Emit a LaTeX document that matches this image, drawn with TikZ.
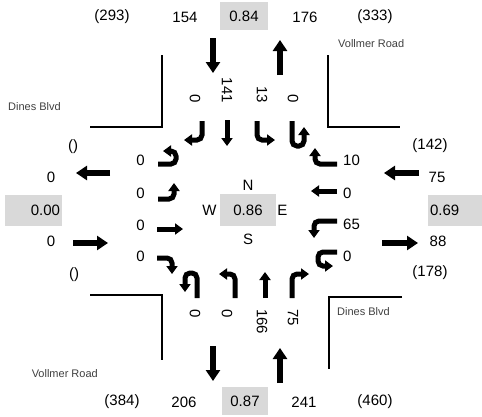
\documentclass[tikz,border=0pt]{standalone}
\usepackage{fontspec}
\setmainfont{Liberation Sans}
\usetikzlibrary{positioning}
\usetikzlibrary{arrows.meta}

\begin{document}
\begin{tikzpicture}[x=1pt, y=-1pt,
vol/.style={font=\fontsize{15}{17}\selectfont, inner sep=1pt},
volbox/.style={vol, fill=gray!30, inner xsep=2pt},
lanevol/.style={vol, rotate=-90},
street/.style={font=\fontsize{11}{13}\selectfont, text=darkgray, inner sep=0pt},
curb/.style={line width=2.5pt},
lanearrow/.style={line width=5pt, rounded corners=5pt, -{Triangle[length=8pt,width=11pt]}},
legarrow/.style={line width=6pt, -{Triangle[length=11pt,width=14pt]}},
]
\useasboundingbox (0,0) rectangle (482,416);

%Nodes
\node[vol]    (nfar)  at (112,17) {(293)};
\node[vol]    (nin)   at (185,17) {154};
\node[volbox, minimum width=48pt, minimum height=28pt] (nvc) at (244,16) {0.84};
\node[vol]    (nout)  at (305,17) {176};
\node[vol]    (nnear) at (375,17) {(333)};

\node[vol]    (sfar)  at (122,402) {(384)};
\node[vol]    (sout)  at (184,402) {206};
\node[volbox, minimum width=46pt, minimum height=28pt] (svc) at (245,401) {0.87};
\node[vol]    (sin)   at (304,402) {241};
\node[vol]    (snear) at (375,402) {(460)};

\node[vol]    (wfar)  at (73,147) {()};
\node[vol]    (wout)  at (51,177) {0};
\node[volbox, text width=53pt, minimum height=31pt, align=right] (wvc) at (33.5,210.5) {0.00};
\node[vol]    (win)   at (51,241) {0};
\node[vol]    (wnear) at (74,275) {()};

\node[vol]    (efar)  at (430,146) {(142)};
\node[vol]    (ein)   at (437,177) {75};
\node[volbox, text width=50pt, minimum height=31pt, align=left] (evc) at (455,210.5) {0.69};
\node[vol]    (eout)  at (438,241) {88};
\node[vol]    (enear) at (430,273) {(178)};

\node[volbox, minimum width=56pt, minimum height=32pt] (ctr) at (248,210) {0.86};
\node[vol]    (cN) [above=2pt of ctr] {N};
\node[vol]    (cS) [below=7pt of ctr] {S};
\node[vol]    (cW) [left=2pt of ctr]  {W};
\node[vol]    (cE) [right=0pt of ctr] {E};

\node[lanevol, anchor=east] (nrt) at (195,104) {0};
\node[lanevol, anchor=east] (nth) at (227,104) {141};
\node[lanevol, anchor=east] (nlt) at (262,104) {13};
\node[lanevol, anchor=east] (nut) at (293,104) {0};

\node[lanevol, anchor=west] (sut) at (195,308) {0};
\node[lanevol, anchor=west] (slt) at (227,308) {0};
\node[lanevol, anchor=west] (sth) at (262,308) {166};
\node[lanevol, anchor=west] (srt) at (293,308) {75};

\node[vol, anchor=east] (wut) at (146,160) {0};
\node[vol, anchor=east] (wlt) at (146,193) {0};
\node[vol, anchor=east] (wth) at (146,225) {0};
\node[vol, anchor=east] (wrt) at (146,256) {0};

\node[vol, anchor=west] (ert) at (342,160) {10};
\node[vol, anchor=west] (eth) at (342,193) {0};
\node[vol, anchor=west] (elt) at (342,224) {65};
\node[vol, anchor=west] (eut) at (342,256) {0};

\node[street, anchor=west] (vollne) at (338,44)  {Vollmer Road};
\node[street, anchor=west] (dinenw) at (8,107)   {Dines Blvd};
\node[street, anchor=west] (dinese) at (337,312) {Dines Blvd};
\node[street, anchor=east] (vollsw) at (98,374)  {Vollmer Road};

%Lines
\draw[curb] (162,55) -- (162,127) -- (90,127);
\draw[curb] (328,55) -- (328,127) -- (400,127);
\draw[curb] (90,295) -- (162,295) -- (162,360);
\draw[curb] (402,297) -- (329,297) -- (329,369);

\draw[legarrow] (213,38) -- (213,73);
\draw[legarrow] (280,75) -- (280,40);
\draw[legarrow] (213,346) -- (213,381);
\draw[legarrow] (280,383) -- (280,348);
\draw[legarrow] (110,173) -- (76,173);
\draw[legarrow] (73,243) -- (108,243);
\draw[legarrow] (419,173) -- (384,173);
\draw[legarrow] (382,243) -- (418,243);

% southbound lanes
\draw[lanearrow] (202,121) -- (202,140) -- (184,140);
\draw[lanearrow] (227,120) -- (227,146);
\draw[lanearrow] (257,121) -- (257,140) -- (275,140);
\draw[lanearrow] (292,121) -- (292,146) -- (304,146) -- (304,127);
% northbound lanes
\draw[lanearrow] (197,298) -- (197,273) -- (185,273) -- (185,292);
\draw[lanearrow] (235,298) -- (235,274) -- (219,274);
\draw[lanearrow] (265,298) -- (265,272);
\draw[lanearrow] (292,298) -- (292,274) -- (309,274);
% eastbound lanes
\draw[lanearrow] (158,164) -- (176,164) -- (176,151) -- (163,151);
\draw[lanearrow] (158,199) -- (174,199) -- (174,183);
\draw[lanearrow] (157,229) -- (183,229);
\draw[lanearrow] (157,258) -- (172,258) -- (172,274);
% westbound lanes
\draw[lanearrow] (337,164) -- (315,164) -- (315,148);
\draw[lanearrow] (337,191) -- (311,191);
\draw[lanearrow] (337,221) -- (314,221) -- (314,238);
\draw[lanearrow] (337,252) -- (318,252) -- (318,266) -- (333,266);
\end{tikzpicture}
\end{document}
